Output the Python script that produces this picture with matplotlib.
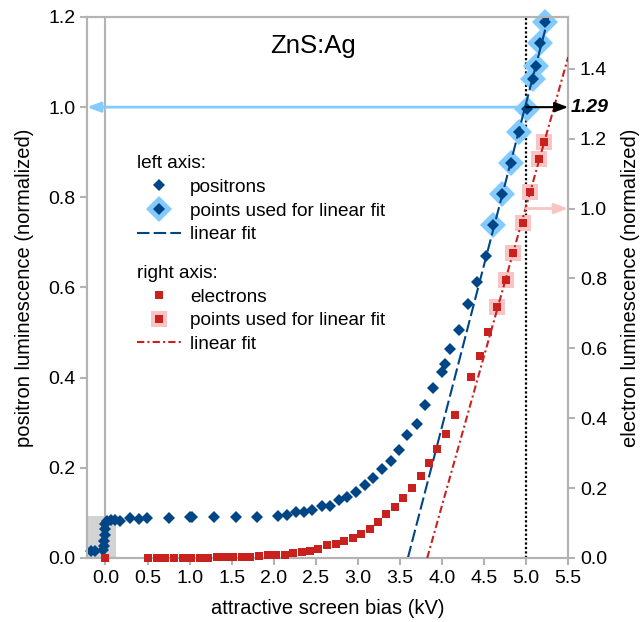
import numpy as np
import matplotlib
matplotlib.use('Agg')
import matplotlib.pyplot as plt
from matplotlib.lines import Line2D

plt.rcParams['font.family'] = ['Liberation Sans', 'DejaVu Sans']

# positrons (left axis)
pos_x = [-0.17, -0.12, -0.03, -0.02, -0.02, -0.01, -0.01, 0.00, 0.02, 0.06, 0.11,
         0.17, 0.29, 0.40, 0.49, 0.76, 1.01, 1.03, 1.29, 1.55, 1.80,
         2.05, 2.16, 2.26, 2.36, 2.46, 2.57, 2.67, 2.77, 2.87, 2.98,
         3.08, 3.18, 3.29, 3.39, 3.49, 3.59, 3.70, 3.80, 3.89, 4.00,
         4.03, 4.10, 4.20, 4.31, 4.42, 4.52,
         4.61, 4.71, 4.82, 4.92, 5.01, 5.08, 5.12, 5.17, 5.23]
pos_y = [0.016, 0.016, 0.018, 0.027, 0.038, 0.051, 0.064, 0.075, 0.082, 0.084, 0.084,
         0.081, 0.089, 0.087, 0.089, 0.088, 0.092, 0.090, 0.090, 0.090, 0.090,
         0.094, 0.095, 0.101, 0.101, 0.107, 0.116, 0.116, 0.128, 0.135, 0.147,
         0.163, 0.177, 0.197, 0.216, 0.240, 0.273, 0.297, 0.339, 0.376, 0.413,
         0.430, 0.463, 0.506, 0.563, 0.612, 0.670,
         0.738, 0.807, 0.876, 0.944, 0.996, 1.062, 1.091, 1.142, 1.188]
n_fit_pos = 9

# electrons (right axis)
ele_x = [0.00, 0.51, 0.61, 0.71, 0.81, 0.92, 1.02, 1.12, 1.22, 1.32,
         1.42, 1.52, 1.62, 1.72, 1.83, 1.93, 2.03, 2.13, 2.23, 2.33,
         2.43, 2.53, 2.63, 2.74, 2.84, 2.94, 3.04, 3.14, 3.24, 3.34,
         3.44, 3.54, 3.64, 3.75, 3.84, 3.94, 4.05, 4.15, 4.35, 4.45,
         4.55, 4.65, 4.76, 4.85, 4.96, 5.05, 5.15, 5.21]
ele_y = [0.000, 0.000, 0.000, 0.001, 0.001, 0.001, 0.001, 0.000, 0.001, 0.004,
         0.002, 0.004, 0.002, 0.004, 0.006, 0.008, 0.010, 0.010, 0.013, 0.016,
         0.021, 0.027, 0.036, 0.039, 0.049, 0.058, 0.069, 0.084, 0.103, 0.125,
         0.145, 0.173, 0.201, 0.234, 0.272, 0.312, 0.356, 0.408, 0.519, 0.579,
         0.648, 0.719, 0.794, 0.874, 0.958, 1.047, 1.142, 1.189]
n_fit_ele = 7

bias_mark = 5.0
scale = 1.29
inset_x = [-0.22, 0.13]
inset_top = 0.094

blue = '#004586'
lblue = '#83caff'
red = '#c9211e'
pink = '#f9c4c4'
grey = '#b3b3b3'

pos_x, pos_y = np.array(pos_x), np.array(pos_y)
ele_x, ele_y = np.array(ele_x), np.array(ele_y)
mp, bp = np.polyfit(pos_x[-n_fit_pos:], pos_y[-n_fit_pos:], 1)
me, be = np.polyfit(ele_x[-n_fit_ele:], ele_y[-n_fit_ele:], 1)

fig = plt.figure(figsize=(6.42, 6.22), dpi=100)
ax = fig.add_axes([0.1355, 0.1029, 0.885 - 0.1355, 0.9727 - 0.1029])
ax2 = ax.twinx()

ax.set_xlim(-0.22, 5.5)
ax.set_ylim(0, 1.2)
ax2.set_ylim(0, 1.2 * scale)

ax.fill_between(inset_x, 0, inset_top, color='#d3d3d3', lw=0, zorder=0)
ax.axvline(0, color=grey, lw=1.5, zorder=0.5)
ax.axvline(bias_mark, color='black', lw=1.6, ls=(0, (1, 1)), zorder=1)

# positrons
ax.plot(pos_x[-n_fit_pos:], pos_y[-n_fit_pos:], 'D', color=lblue, ms=13, mew=0,
        zorder=2, clip_on=False)
xf = np.array([-bp / mp, 5.5])
ax.plot(xf, mp * xf + bp, color=blue, lw=1.5, dashes=(6, 2), zorder=3)
ax.plot(pos_x, pos_y, 'D', color=blue, ms=6.5, mew=0, zorder=4, clip_on=False)

# electrons
ax2.plot(ele_x[-n_fit_ele:], ele_y[-n_fit_ele:], 's', color=pink, ms=11, mew=0, zorder=2)
xe = np.array([-be / me, 5.5])
ax2.plot(xe, me * xe + be, color=red, lw=1.5, dashes=(3.5, 1.5, 1, 1.5), zorder=3)
ax2.plot(ele_x, ele_y, 's', color=red, ms=5.5, mew=0, zorder=4, clip_on=False)

# arrows
head = '-|>,head_length=0.8,head_width=0.3'
ax.annotate('', xy=(0, 1.0), xycoords=('axes fraction', 'data'),
            xytext=(bias_mark, 1.0), textcoords='data',
            arrowprops=dict(arrowstyle=head, color=lblue, lw=2, shrinkA=0, shrinkB=0))
ax2.annotate('', xy=(1, 1.0), xycoords=('axes fraction', 'data'),
             xytext=(bias_mark, 1.0), textcoords='data',
             arrowprops=dict(arrowstyle=head, color=pink, lw=2, shrinkA=0, shrinkB=0))
ax2.annotate('', xy=(1, scale), xycoords=('axes fraction', 'data'),
             xytext=(bias_mark, scale), textcoords='data',
             arrowprops=dict(arrowstyle=head, color='black', lw=1.5, shrinkA=0, shrinkB=0))
ax2.annotate('%.2f' % scale, xy=(1, scale), xycoords=('axes fraction', 'data'),
             xytext=(1.5, 0), textcoords='offset points', ha='left', va='center',
             fontsize=14, fontweight='bold', fontstyle='italic', annotation_clip=False)

ax.text(0.47, 0.968, 'ZnS:Ag', transform=ax.transAxes, ha='center', va='top', fontsize=18.5)

ax.set_xticks(np.arange(0, 5.51, 0.5))
ax.set_xticklabels(['%.1f' % v for v in np.arange(0, 5.51, 0.5)])
ax.set_yticks(np.arange(0, 1.21, 0.2))
ax.set_yticklabels(['%.1f' % v for v in np.arange(0, 1.21, 0.2)])
ax2.set_yticks(np.arange(0, 1.41, 0.2))
ax2.set_yticklabels(['%.1f' % v for v in np.arange(0, 1.41, 0.2)])

for a in (ax, ax2):
    for s in a.spines.values():
        s.set_color(grey)
        s.set_linewidth(1.5)
    a.tick_params(color=grey, width=1.5, length=5, labelsize=14, labelcolor='black')

ax.set_xlabel('attractive screen bias (kV)', fontsize=14.5, labelpad=9)
ax.set_ylabel('positron luminescence (normalized)', fontsize=14.5, labelpad=10)
ax2.set_ylabel('electron luminescence (normalized)', fontsize=14.5, labelpad=10)

# legends
h_pos = Line2D([], [], marker='D', ls='none', color=blue, ms=6.5, mew=0)
h_posfit = (Line2D([], [], marker='D', ls='none', color=lblue, ms=13, mew=0),
            Line2D([], [], marker='D', ls='none', color=blue, ms=6.5, mew=0))
h_posline = Line2D([], [], color=blue, lw=1.5, dashes=(6, 2))
h_ele = Line2D([], [], marker='s', ls='none', color=red, ms=5.5, mew=0)
h_elefit = (Line2D([], [], marker='s', ls='none', color=pink, ms=11, mew=0),
            Line2D([], [], marker='s', ls='none', color=red, ms=5.5, mew=0))
h_eleline = Line2D([], [], color=red, lw=1.5, dashes=(3.5, 1.5, 1, 1.5))

kw = dict(frameon=False, fontsize=13.7, title_fontsize=13.7, alignment='left',
          loc='upper left', borderpad=0, borderaxespad=0, labelspacing=0.34,
          handlelength=2.3, handletextpad=0.5)
leg1 = ax2.legend([h_pos, h_posfit, h_posline],
                  ['positrons', 'points used for linear fit', 'linear fit'],
                  title='left axis:', bbox_to_anchor=(0.104, 0.745), **kw)
ax2.add_artist(leg1)
ax2.legend([h_ele, h_elefit, h_eleline],
           ['electrons', 'points used for linear fit', 'linear fit'],
           title='right axis:', bbox_to_anchor=(0.104, 0.542), **kw)

fig.savefig('out.png', dpi=100)
